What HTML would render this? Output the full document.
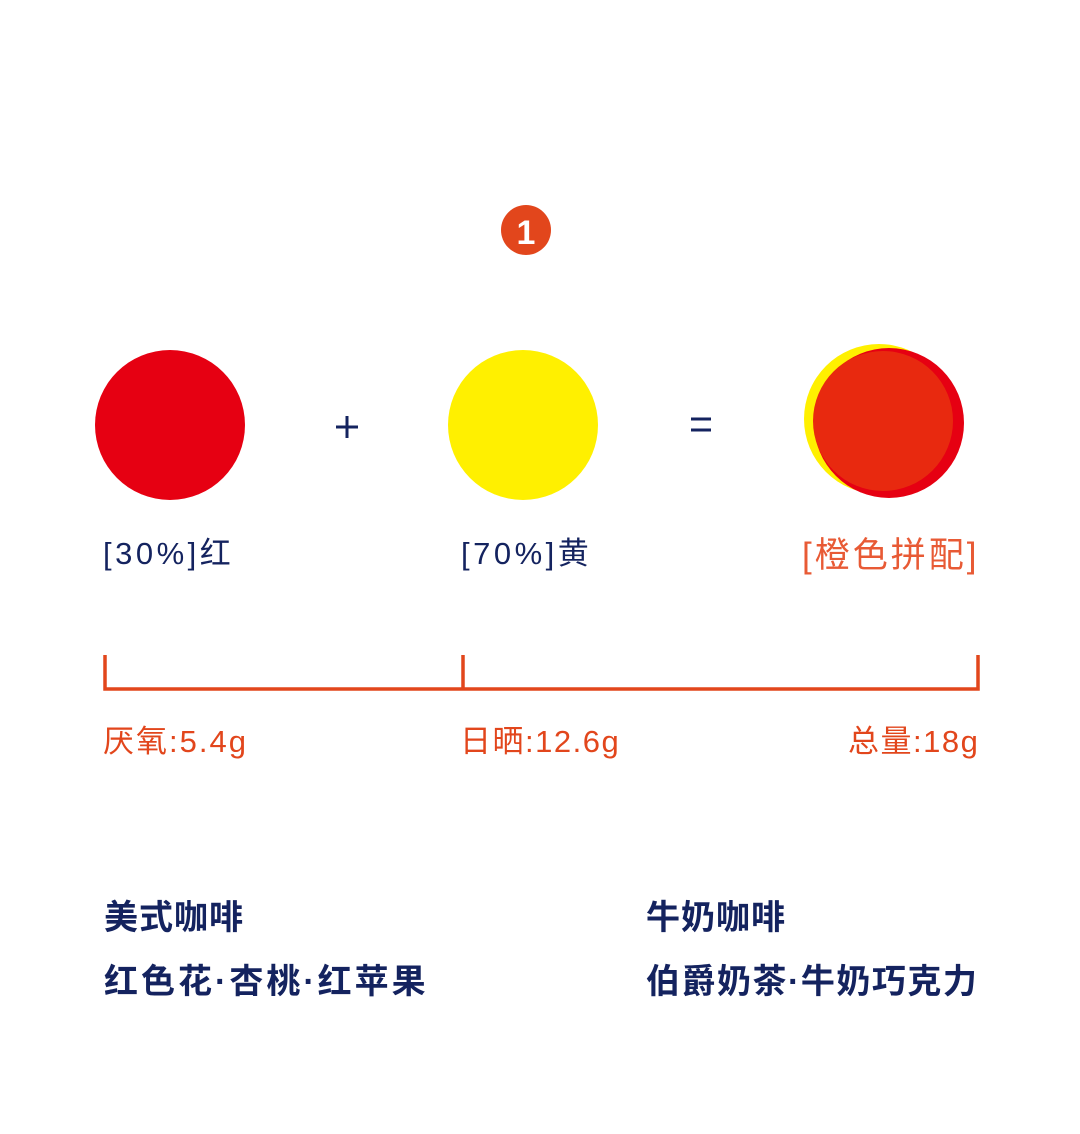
<!DOCTYPE html>
<html><head><meta charset="utf-8"><style>
body{margin:0;width:1080px;height:1134px;background:#fff;position:relative;overflow:hidden;font-family:"Liberation Sans","Noto Sans CJK SC",sans-serif}
.t{position:absolute;white-space:nowrap;line-height:1}
.navy{color:#14235f}
.org{color:#e2461c}
</style></head><body>
<svg width="1080" height="1134" style="position:absolute;left:0;top:0">
<circle cx="526" cy="230" r="25" fill="#e2461c"/>
<text x="526" y="244" font-size="34" font-weight="bold" fill="#fff" text-anchor="middle" font-family="Liberation Sans, sans-serif">1</text>
<circle cx="170" cy="425" r="75" fill="#e60012"/>
<circle cx="523" cy="425" r="75" fill="#fff000"/>
<circle cx="879" cy="419" r="75" fill="#fff000"/>
<circle cx="889" cy="423" r="75" fill="#e60012"/>
<circle cx="883" cy="421" r="70" fill="#e8290f"/>
<path d="M336 427h22M347 416v22" stroke="#14235f" stroke-width="3"/>
<path d="M691 419h20M691 430h20" stroke="#14235f" stroke-width="3"/>
<path d="M105 655V689H978V655M463 655V689" stroke="#e2461c" stroke-width="3.5" fill="none"/>
</svg>
<div class="t navy" style="left:103px;top:538px;font-size:31px;letter-spacing:3.5px">[30%]红</div>
<div class="t navy" style="left:461px;top:538px;font-size:31px;letter-spacing:3.5px">[70%]黄</div>
<div class="t org" style="left:802px;top:538px;font-size:35px;letter-spacing:3px;color:#e85a35">[橙色拼配]</div>
<div class="t org" style="left:103px;top:726px;font-size:31px;letter-spacing:2px">厌氧:5.4g</div>
<div class="t org" style="left:460px;top:726px;font-size:31px;letter-spacing:1.5px">日晒:12.6g</div>
<div class="t org" style="left:848px;top:726px;font-size:31px;letter-spacing:1.5px">总量:18g</div>
<div class="t navy" style="left:104px;top:901px;font-size:34px;font-weight:bold;letter-spacing:1px">美式咖啡</div>
<div class="t navy" style="left:104px;top:965px;font-size:34px;font-weight:bold;letter-spacing:3px">红色花·杏桃·红苹果</div>
<div class="t navy" style="left:646px;top:901px;font-size:34px;font-weight:bold;letter-spacing:1px">牛奶咖啡</div>
<div class="t navy" style="left:646px;top:965px;font-size:34px;font-weight:bold;letter-spacing:1.5px">伯爵奶茶·牛奶巧克力</div>
</body></html>
